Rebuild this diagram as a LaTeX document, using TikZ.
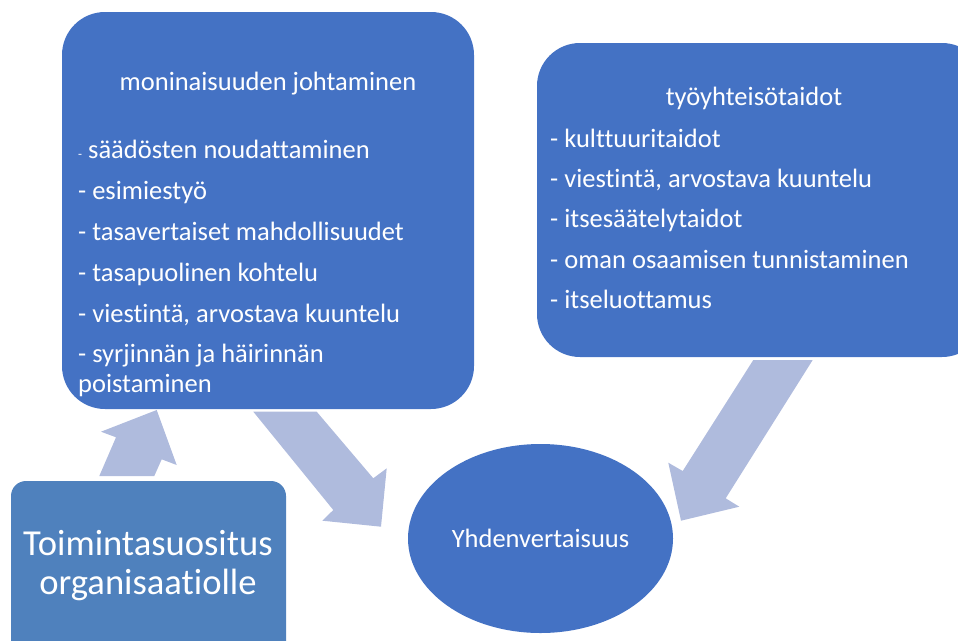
\documentclass[tikz,border=0pt]{standalone}
\usepackage{fontspec}
\setmainfont{Carlito}[Ligatures={NoCommon}]
\usetikzlibrary{shapes.geometric}

\definecolor{boxblue}{HTML}{4472C4}
\definecolor{sugblue}{HTML}{4F81BD}
\definecolor{arrblue}{RGB}{175,187,221}

\begin{document}
\begin{tikzpicture}[
    x=1pt, y=-1pt,
    box/.style={fill=boxblue, rounded corners=43pt, inner sep=0pt},
    item/.style={text=white, inner sep=0pt, anchor=base west, font=\fontsize{26.5}{30}\selectfont},
    head/.style={text=white, inner sep=0pt, anchor=base, font=\fontsize{26.5}{30}\selectfont},
    conn/.style={fill=arrblue},
]
\useasboundingbox (0,0) rectangle (958,640);
\clip (0,0) rectangle (958,640);

% boxes
\node[box, minimum width=412pt, minimum height=397pt] (lead) at (268,210.5) {};
\node[box, minimum width=448pt, minimum height=314pt] (work) at (761,200) {};
\node[box, fill=sugblue, rounded corners=15pt, minimum width=275pt, minimum height=200pt] (sug) at (148.5,581) {};
\node[ellipse, fill=boxblue, text=white, inner sep=0pt, minimum width=265pt, minimum height=189pt,
      font=\fontsize{26.5}{30}\selectfont] (equal) at (540.5,538.5) {Yhdenvertaisuus};

% texts
\node[head] (leadtitle) at (268,90) {moninaisuuden johtaminen};
\node[item] (lead1) at (78,158) {{\fontsize{13}{15}\selectfont -} säädösten noudattaminen};
\foreach \y/\txt [count=\i from 2] in {199/- esimiestyö, 240/- tasavertaiset mahdollisuudet,
    281/- tasapuolinen kohtelu, 322/{- viestintä, arvostava kuuntelu},
    362/- syrjinnän ja häirinnän, 392/poistaminen}
  \node[item] (lead\i) at (78,\y) {\txt};

\node[head] (worktitle) at (754,105) {työyhteisötaidot};
\foreach \y/\txt [count=\i] in {147/- kulttuuritaidot, 187/{- viestintä, arvostava kuuntelu},
    227/- itsesäätelytaidot, 268/- oman osaamisen tunnistaminen, 308/- itseluottamus}
  \node[item] (work\i) at (550,\y) {\txt};

\node[head, font=\fontsize{36.6}{39}\selectfont] (sugtop) at (148,555) {Toimintasuositus};
\node[head, font=\fontsize{36.6}{39}\selectfont] (sugbot) at (148,594) {organisaatiolle};

% block arrows
\fill[conn] (99.3,476) -- (116,437.3) -- (101,431.7) -- (156.7,410) -- (176.7,465) -- (161.7,459.3) -- (154.3,476) -- cycle;
\fill[conn] (253.3,411.7) -- (316.7,411.7) -- (373.3,478.3) -- (386.7,468.3) -- (381,526.7) -- (322.3,520.7) -- (333.3,510) -- cycle;
\fill[conn] (812.7,360) -- (753.3,360) -- (682.7,471) -- (668.3,462.7) -- (681,520.7) -- (739.3,506.7) -- (725.7,498.3) -- cycle;

\end{tikzpicture}
\end{document}
